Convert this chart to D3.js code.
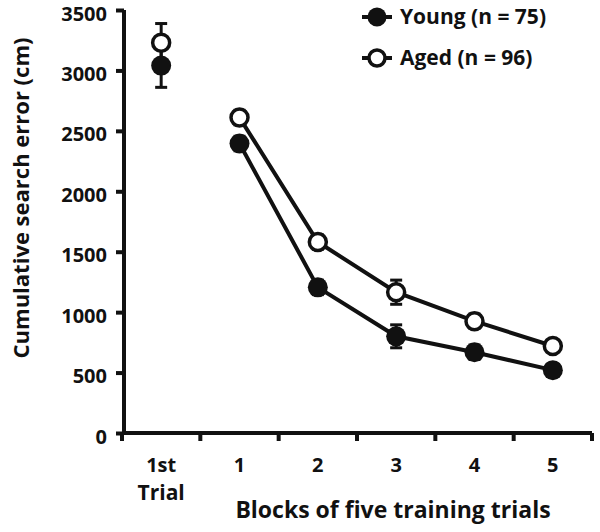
<!DOCTYPE html>
<html><head><meta charset="utf-8">
<script src="https://cdn.jsdelivr.net/npm/d3@7"></script>
<style>body{margin:0;background:#fff}text{font-family:"Open Sans",sans-serif;font-weight:700;fill:#111}</style>
</head><body><svg id="c" width="600" height="532"></svg>
<script>
const categories = ["1st", "1", "2", "3", "4", "5"];
const firstTrialLabel = ["1st", "Trial"];
const young = [3040, 2395, 1205, 800, 668, 520];
const youngErr = [180, 60, 60, 95, 60, 50];
const aged = [3230, 2610, 1580, 1165, 925, 720];
const agedErr = [158, 60, 60, 100, 60, 50];
const yTicks = [0, 500, 1000, 1500, 2000, 2500, 3000, 3500];
const seriesNames = ["Young (n = 75)", "Aged (n = 96)"];

const svg = d3.select("#c");
const x = d3.scaleBand().domain(categories).range([122, 592]);
const y = d3.scaleLinear().domain([0, 3500]).range([433, 10]);
const ink = "#111";

// y axis
const ya = svg.append("g").attr("transform", "translate(124,0)")
  .call(d3.axisLeft(y).tickValues(yTicks).tickFormat(d3.format("d")).tickSize(8).tickPadding(9));
ya.select(".domain").attr("d", `M0,${y(3500)}V${y(0)}`).attr("stroke", ink).attr("stroke-width", 4);
ya.selectAll(".tick line").attr("stroke", ink).attr("stroke-width", 4);
ya.selectAll(".tick text").attr("font-size", 20).attr("fill", ink).attr("dy", "0.5em")
  .style("font-family", '"Open Sans",sans-serif').style("font-weight", 700);

// x axis
const xa = svg.append("g").attr("transform", "translate(0,433)");
xa.append("line").attr("x1", 122).attr("x2", 592).attr("stroke", ink).attr("stroke-width", 4);
const edges = categories.map(c => x(c)).concat([x.range()[1]]);
xa.selectAll("line.t").data(edges).enter().append("line").attr("class", "t")
  .attr("x1", d => d).attr("x2", d => d).attr("y1", 0).attr("y2", 8)
  .attr("stroke", ink).attr("stroke-width", 4);
xa.selectAll("text.l").data(categories).enter().append("text").attr("class", "l")
  .attr("x", d => x(d) + x.bandwidth() / 2).attr("y", 39)
  .attr("text-anchor", "middle").attr("font-size", 20)
  .text((d, i) => i === 0 ? firstTrialLabel[0] : d);
xa.append("text").attr("x", x(categories[0]) + x.bandwidth() / 2).attr("y", 67)
  .attr("text-anchor", "middle").attr("font-size", 21).text(firstTrialLabel[1]);

svg.append("text").attr("x", 393).attr("y", 518).attr("text-anchor", "middle")
  .attr("font-size", 23).text("Blocks of five training trials");
svg.append("text").attr("transform", "translate(29,198) rotate(-90)")
  .attr("text-anchor", "middle").attr("font-size", 22).text("Cumulative search error (cm)");

const cx = d => x(d) + x.bandwidth() / 2;
const line = d3.line().x(d => cx(d.c)).y(d => y(d.v));
const pts = (vals, errs) => categories.map((c, i) => ({ c, v: vals[i], e: errs[i] }));
const A = pts(aged, agedErr), Y = pts(young, youngErr);

[A, Y].forEach(p => svg.append("path").datum(p.slice(1)).attr("d", line)
  .attr("fill", "none").attr("stroke", ink).attr("stroke-width", 4));

const eg = svg.append("g");
[A, Y].forEach(ps => ps.forEach(p => {
  eg.append("line").attr("x1", cx(p.c)).attr("x2", cx(p.c)).attr("y1", y(p.v + p.e)).attr("y2", y(p.v - p.e))
    .attr("stroke", ink).attr("stroke-width", 3);
  [p.v + p.e, p.v - p.e].forEach(t => eg.append("line").attr("x1", cx(p.c) - 6).attr("x2", cx(p.c) + 6)
    .attr("y1", y(t)).attr("y2", y(t)).attr("stroke", ink).attr("stroke-width", 3));
}));

function markers(ps, filled) {
  svg.append("g").selectAll("circle").data(ps).enter().append("circle")
    .attr("cx", d => cx(d.c)).attr("cy", d => y(d.v)).attr("r", filled ? 10 : 8.5)
    .attr("fill", filled ? ink : "#fff").attr("stroke", ink).attr("stroke-width", filled ? 0 : 3.5);
}
markers(A, false);
markers(Y, true);

// legend
const lg = svg.append("g");
[[17, true], [58, false]].forEach(([ly, f], i) => {
  lg.append("line").attr("x1", 362).attr("x2", 392).attr("y1", ly).attr("y2", ly)
    .attr("stroke", ink).attr("stroke-width", 4);
  lg.append("circle").attr("cx", 377).attr("cy", ly).attr("r", f ? 9.5 : 8)
    .attr("fill", f ? ink : "#fff").attr("stroke", ink).attr("stroke-width", f ? 0 : 3.5);
  lg.append("text").attr("x", 400).attr("y", ly + 7).attr("font-size", 21).text(seriesNames[i]);
});
</script></body></html>
